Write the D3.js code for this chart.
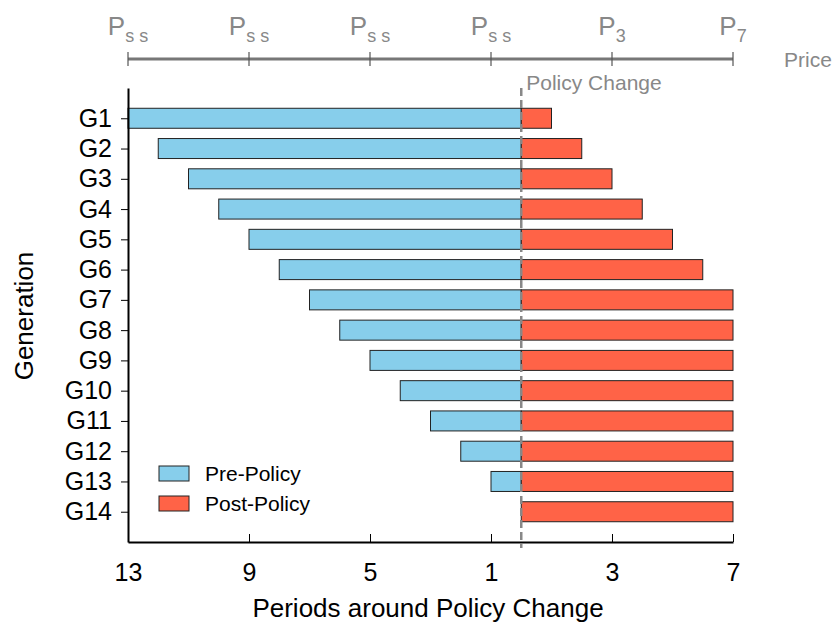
<!DOCTYPE html>
<html><head><meta charset="utf-8">
<script src="https://cdn.jsdelivr.net/npm/d3@7"></script>
<style>body{margin:0;background:#fff;}svg{display:block;font-family:"Liberation Sans",Arial,sans-serif;}</style>
</head><body><svg id="c" width="837" height="624"></svg>
<script>
const generations = ["G1","G2","G3","G4","G5","G6","G7","G8","G9","G10","G11","G12","G13","G14"];
const preStart = [-13,-12,-11,-10,-9,-8,-7,-6,-5,-4,-3,-2,-1,0];
const postEnd  = [1,2,3,4,5,6,7,7,7,7,7,7,7,7];
const bottomTicks = [-13,-9,-5,-1,3,7];
const bottomTickLabels = ["13","9","5","1","3","7"];
const priceSubs = ["ss","ss","ss","ss","3","7"];

const svg = d3.select("#c");
const x = d3.scaleLinear().domain([-13,7]).range([128,733]);
const y = d3.scalePoint().domain(generations).range([88,542]).padding(1);
const barH = 20;
const blue = "#87ceeb", red = "#ff6347";
const FF = "Liberation Sans, Arial, sans-serif";

// bars
const g = svg.append("g");
generations.forEach((gen,i)=>{
  if (preStart[i] < 0) {
    g.append("rect").attr("x", x(preStart[i])).attr("y", y(gen)-barH/2)
      .attr("width", x(0)-x(preStart[i])).attr("height", barH)
      .attr("fill", blue).attr("stroke","#222").attr("stroke-width",1);
  }
  g.append("rect").attr("x", x(0)).attr("y", y(gen)-barH/2)
    .attr("width", x(postEnd[i])-x(0)).attr("height", barH)
    .attr("fill", red).attr("stroke","#222").attr("stroke-width",1);
});

// policy line
svg.append("line").attr("x1",x(0)).attr("x2",x(0)).attr("y1",88).attr("y2",548)
  .attr("stroke","#888").attr("stroke-width",2.5).attr("stroke-dasharray","8,4");
svg.append("text").attr("x",x(0)+5).attr("y",90).attr("fill","#888").attr("font-size",21).text("Policy Change");

// left axis
const yAxis = svg.append("g").attr("transform","translate(128,0)")
  .call(d3.axisLeft(y).tickSize(7).tickPadding(9).tickSizeOuter(0));
yAxis.select(".domain").attr("stroke","#000").attr("stroke-width",2);
yAxis.selectAll("text").attr("font-size",25).attr("fill","#000").attr("font-family",FF);
yAxis.selectAll(".tick line").attr("stroke","#000");

// bottom axis
const xAxis = svg.append("g").attr("transform","translate(0,542)")
  .call(d3.axisBottom(x).tickValues(bottomTicks).tickFormat((d,i)=>bottomTickLabels[i]).tickSize(-8).tickPadding(21).tickSizeOuter(0));
xAxis.select(".domain").attr("stroke","#000").attr("stroke-width",2);
xAxis.selectAll("text").attr("font-size",25).attr("fill","#000").attr("font-family",FF).attr("dy","0.72em");
xAxis.selectAll(".tick line").attr("stroke","#000");

// top price axis
const tAxis = svg.append("g").attr("transform","translate(0,59)");
tAxis.append("line").attr("x1",x(-13)).attr("x2",x(7)).attr("y1",0).attr("y2",0).attr("stroke","#777").attr("stroke-width",3);
bottomTicks.forEach((v,i)=>{
  tAxis.append("line").attr("x1",x(v)).attr("x2",x(v)).attr("y1",-7).attr("y2",7).attr("stroke","#555").attr("stroke-width",1.2);
  const t = tAxis.append("text").attr("x",x(v)).attr("y",-24).attr("text-anchor","middle").attr("fill","#888").attr("font-size",26);
  t.append("tspan").text("P");
  const sub = priceSubs[i] === "ss" ? "s s" : priceSubs[i];
  t.append("tspan").attr("font-size",18).attr("dy",7).text(sub);
});
svg.append("text").attr("x",808).attr("y",67).attr("text-anchor","middle").attr("fill","#888").attr("font-size",21).text("Price");

// axis titles
svg.append("text").attr("transform","translate(33,316) rotate(-90)").attr("text-anchor","middle")
  .attr("font-size",26).attr("fill","#000").text("Generation");
svg.append("text").attr("x",428).attr("y",617).attr("text-anchor","middle")
  .attr("font-size",26).attr("fill","#000").text("Periods around Policy Change");

// legend
const leg = [["Pre-Policy",blue],["Post-Policy",red]];
leg.forEach((d,i)=>{
  svg.append("rect").attr("x",159).attr("y",466+i*30).attr("width",30).attr("height",15)
    .attr("fill",d[1]).attr("stroke","#222").attr("stroke-width",1);
  svg.append("text").attr("x",205).attr("y",481+i*30).attr("font-size",21).attr("fill","#000").text(d[0]);
});
</script></body></html>
